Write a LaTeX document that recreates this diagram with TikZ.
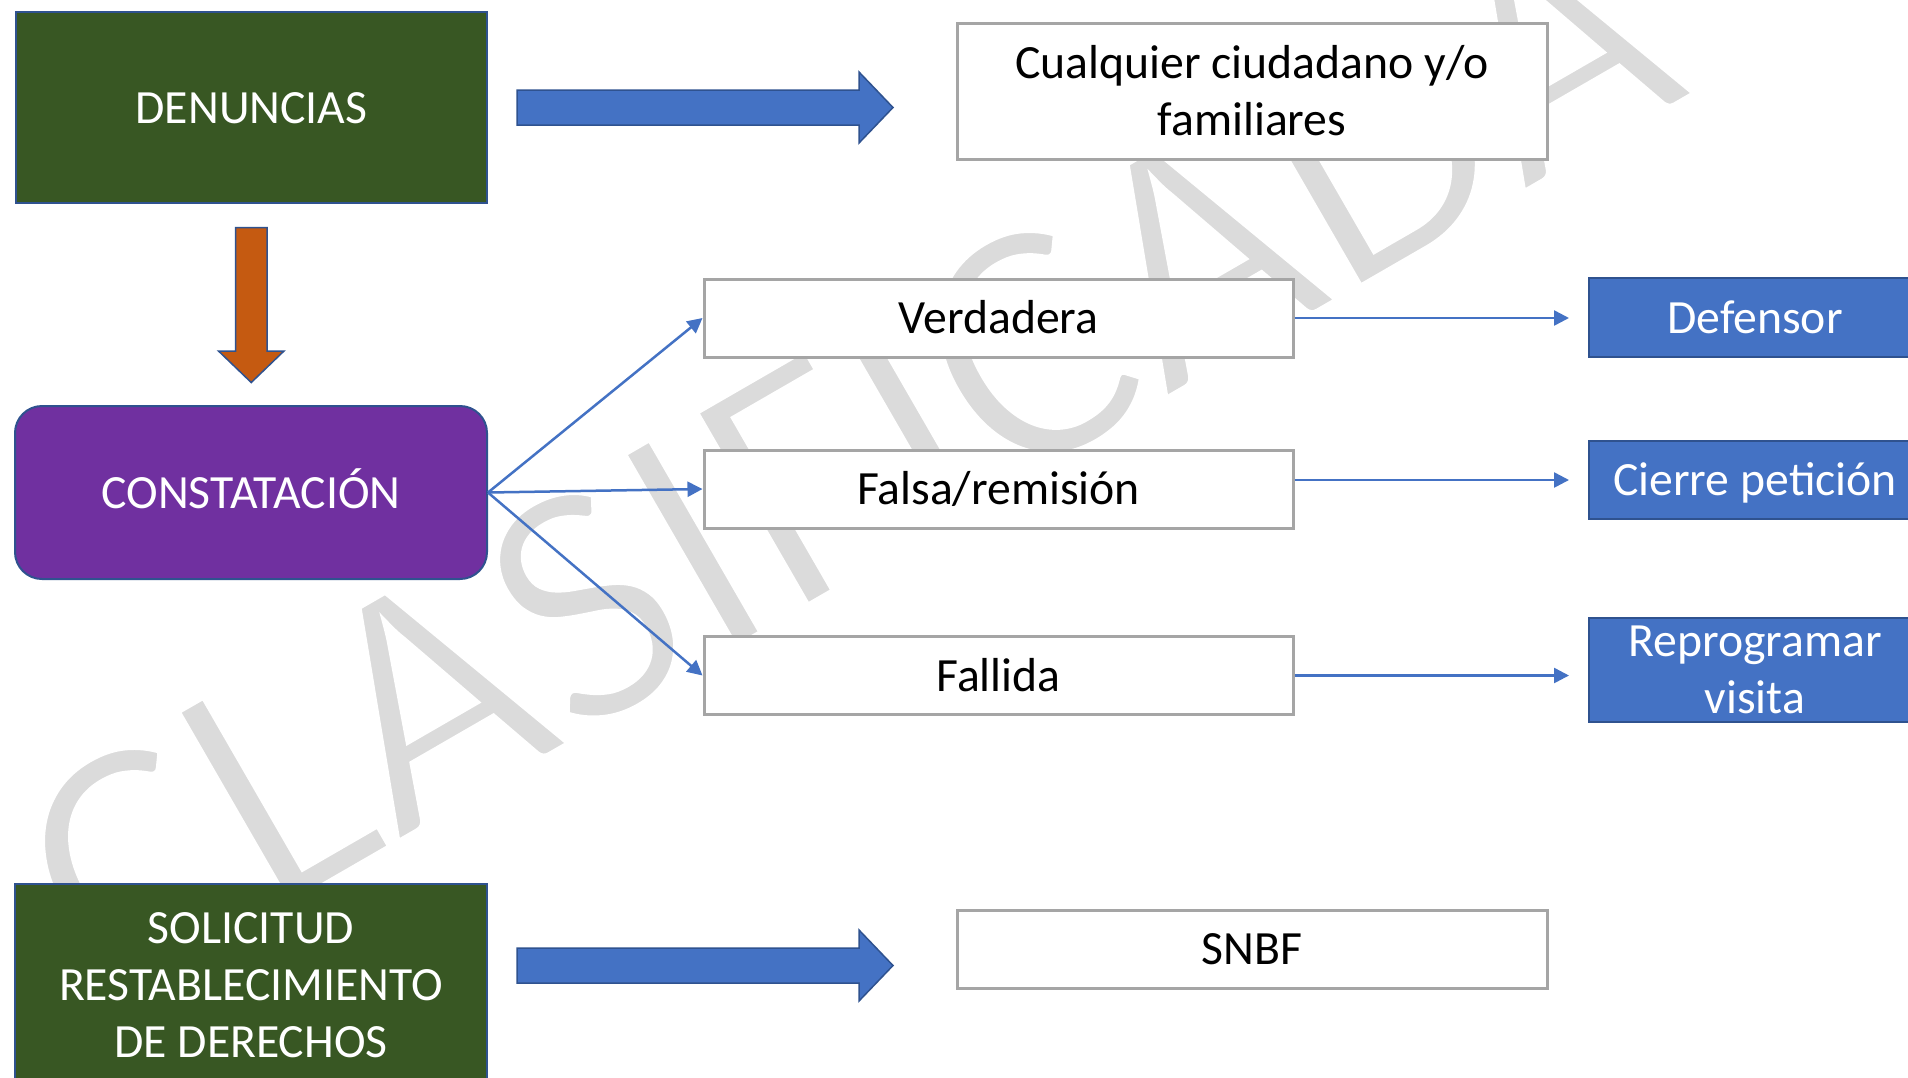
\documentclass[tikz,border=0pt]{standalone}
\usepackage{fontspec}
\setmainfont{Carlito}
\usetikzlibrary{arrows.meta}
\definecolor{boxgreen}{RGB}{56,87,35}
\definecolor{boxpurple}{RGB}{112,48,160}
\definecolor{boxorange}{RGB}{197,90,17}
\definecolor{boxblue}{RGB}{68,114,196}
\definecolor{edgeblue}{RGB}{47,82,143}
\definecolor{edgegray}{RGB}{165,165,165}
\definecolor{markgray}{RGB}{219,219,219}

\begin{document}
\begin{tikzpicture}[x=1pt, y=-1pt, font=\fontsize{47.7}{57}\selectfont]
        \tikzstyle{colbox} = [draw=edgeblue, line width=2pt, text=white, align=center, inner sep=0pt]
        \tikzstyle{whitebox} = [draw=edgegray, line width=3pt, fill=white, text=black, align=center, inner sep=0pt]
        \tikzstyle{oneline} = [text height=31.5pt, text depth=0pt]
        \tikzstyle{bigarrow} = [draw=edgeblue, line width=1.5pt, line join=miter]
        \tikzstyle{link} = [draw=boxblue, line width=2.5pt, -{Triangle[length=15pt,width=15pt]}]
    \useasboundingbox (0,0) rectangle (1908,1077);
    \clip (0,0) rectangle (1908,1077);
    \fill[white] (0,0) rectangle (1908,1077);
    % marca de agua (trazo blanco para adelgazar las letras)
    \node[text=markgray, font=\fontsize{350}{350}\selectfont, rotate=30, anchor=base west, inner sep=0pt] (mark) at (107,1011)
        {\special{pdf:literal direct 2 Tr 1 1 1 RG 7 w}CLASIFICADA\special{pdf:literal direct 0 Tr}};

    % columna izquierda
    \node[colbox, oneline, fill=boxgreen, minimum width=471pt, minimum height=191pt] (den) at (251.5,107.5) {DENUNCIAS};
    \node[colbox, oneline, fill=boxpurple, rounded corners=27pt, minimum width=472pt, minimum height=173pt] (con) at (251,492.5) {CONSTATACIÓN};
    \node[colbox, fill=boxgreen, minimum width=472pt, minimum height=202pt] (sol) at (251,985) {SOLICITUD\\RESTABLECIMIENTO\\DE DERECHOS};

    % cajas blancas
    \node[whitebox, minimum width=590pt, minimum height=136pt] (ciu) at (1252,91) {Cualquier ciudadano y/o\\familiares};
    \node[whitebox, oneline, minimum width=589pt, minimum height=78pt] (ver) at (998.5,318) {Verdadera};
    \node[whitebox, oneline, minimum width=589pt, minimum height=78pt] (fal) at (998.5,489) {Falsa/remisión};
    \node[whitebox, oneline, minimum width=589pt, minimum height=78pt] (fll) at (998.5,675.5) {Fallida};
    \node[whitebox, oneline, minimum width=590pt, minimum height=78pt] (snbf) at (1252,949) {SNBF};

    % cajas azules
    \node[colbox, oneline, fill=boxblue, minimum width=332pt, minimum height=79pt] (def) at (1755,317.5) {Defensor};
    \node[colbox, oneline, fill=boxblue, minimum width=332pt, minimum height=78pt] (cie) at (1755,480) {Cierre petición};
    \node[colbox, fill=boxblue, minimum width=332pt, minimum height=104pt] (rep) at (1755,670) {Reprogramar\\visita};

    % flechas gruesas
    \draw[bigarrow, fill=boxblue] ([shift={(29,-17.5)}]den.east) -- ++(342,0) -- ++(0,-18) -- ++(34,35.5) -- ++(-34,35.5) -- ++(0,-18) -- ++(-342,0) -- cycle;
    \draw[bigarrow, fill=boxblue] ([shift={(29,-37)}]sol.east) -- ++(342,0) -- ++(0,-18) -- ++(34,35.5) -- ++(-34,35.5) -- ++(0,-18) -- ++(-342,0) -- cycle;
    \draw[bigarrow, fill=boxorange] ([shift={(-16,23.5)}]den.south) -- ++(31.5,0) -- ++(0,123.5) -- ++(17,0) -- ++(-32.75,31.5) -- ++(-32.75,-31.5) -- ++(17,0) -- cycle;

    % flechas finas
    \draw[link] (con.east) -- (ver.west);
    \draw[link] (con.east) -- (fal.west);
    \draw[link] (con.east) -- (fll.west);
    \draw[link, shorten >=19pt] (ver.east) -- (ver.east -| def.west);
    \draw[link, shorten >=19pt] (fal.east |- cie.west) -- (cie.west);
    \draw[link, shorten >=19pt] (fll.east) -- (fll.east -| rep.west);
\end{tikzpicture}
\end{document}
